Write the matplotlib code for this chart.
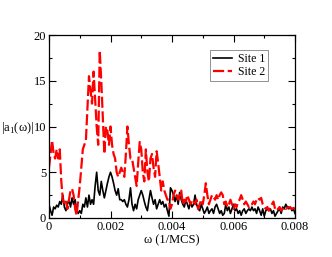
import numpy as np
import matplotlib
matplotlib.use("Agg")
import matplotlib.pyplot as plt
from matplotlib.ticker import MultipleLocator

plt.rcParams['font.family'] = ['Liberation Serif', 'DejaVu Serif']
plt.rcParams['mathtext.fontset'] = 'custom'
plt.rcParams['mathtext.rm'] = 'Liberation Serif'

step = 0.00005
site1 = [
    1.5, 0.8, 0.3, 1.2, 1.0, 1.4, 1.2, 1.8, 1.5, 2.5,
    1.2, 0.8, 1.5, 2.0, 1.2, 2.2, 1.5, 2.0, 0.8, 0.5,
    0.8, 0.5, 1.5, 1.2, 2.2, 1.2, 2.5, 1.5, 2.0, 1.5,
    3.5, 5.0, 3.0, 2.5, 4.0, 3.0, 2.2, 3.0, 3.8, 4.5,
    5.0, 4.5, 3.8, 3.0, 2.5, 3.2, 2.0, 2.0, 1.8, 2.0,
    1.5, 1.2, 2.0, 3.3, 1.5, 0.8, 1.5, 1.0, 2.0, 2.5,
    3.0, 2.5, 1.8, 1.2, 0.8, 2.0, 3.0, 2.2, 1.5, 2.0,
    1.0, 1.5, 2.0, 1.5, 1.8, 1.2, 1.5, 0.8, 0.2, 3.3,
    3.0, 2.5, 1.8, 2.5, 1.5, 2.8, 2.0, 1.5, 1.2, 2.0,
    1.5, 1.0, 1.8, 1.2, 1.5, 2.5, 1.5, 1.0, 0.8, 1.5,
    1.0, 0.5, 0.8, 1.2, 0.5, 0.8, 1.0, 0.5, 1.2, 1.5,
    1.0, 0.5, 0.8, 0.3, 0.5, 1.5, 0.8, 1.2, 0.5, 1.0,
    1.5, 0.8, 1.0, 0.5, 0.8, 0.3, 0.8, 1.0, 0.5, 0.8,
    1.0, 0.8, 1.2, 0.8, 1.0, 0.5, 1.2, 0.8, 0.3, 1.0,
    0.2, 0.8, 1.0, 0.8, 1.0, 0.5, 0.8, 0.2, 0.5, 0.8,
    1.0, 0.5, 1.2, 1.0, 1.5, 1.2, 1.0, 1.2, 0.8, 1.0,
    0.5,
]
site2 = [
    5.5, 7.0, 8.5, 7.0, 6.5, 7.5, 6.5, 7.5, 4.0, 2.0,
    1.5, 1.8, 1.0, 2.0, 3.0, 3.2, 2.5, 1.0, 0.3, 2.0,
    3.5, 5.5, 7.5, 8.0, 8.5, 12.0, 15.5, 14.0, 12.5, 16.0,
    13.0, 10.0, 8.0, 18.3, 15.0, 11.0, 7.0, 10.0, 9.5, 8.0,
    10.0, 8.0, 7.0, 6.5, 5.0, 4.5, 5.0, 5.5, 5.0, 4.5,
    7.0, 10.0, 8.0, 6.5, 6.5, 5.5, 4.5, 3.5, 6.0, 8.3,
    7.5, 5.0, 4.0, 7.5, 5.0, 4.0, 6.5, 7.0, 5.5, 4.5,
    7.3, 6.0, 4.5, 3.0, 4.0, 3.0, 2.5, 2.0, 2.0, 1.0,
    1.5, 2.5, 3.0, 2.5, 2.0, 2.5, 3.0, 1.5, 2.0, 1.8,
    2.5, 2.0, 1.5, 2.0, 1.8, 1.5, 2.0, 1.0, 1.5, 2.0,
    1.5, 2.5, 3.8, 2.5, 1.5, 2.0, 2.5, 2.3, 2.0, 2.5,
    2.0, 2.5, 2.8, 2.5, 1.5, 1.8, 1.2, 1.5, 2.0, 1.5,
    1.0, 1.5, 1.2, 1.8, 2.0, 2.5, 2.0, 1.5, 1.8, 1.5,
    1.2, 1.5, 1.5, 1.8, 1.5, 2.0, 2.2, 2.0, 2.2, 1.5,
    1.2, 1.0, 1.2, 0.8, 1.2, 1.5, 1.8, 1.0, 0.8, 1.0,
    1.2, 0.8, 1.0, 1.2, 1.0, 1.1, 1.2, 1.1, 1.0, 1.1,
    1.0,
]
labels = ["Site 1", "Site 2"]

omega1 = np.arange(len(site1)) * step
omega2 = np.arange(len(site2)) * step

fig = plt.figure(figsize=(3.32, 2.57), dpi=100)
ax = fig.add_axes([49/332, 1 - 218/257, (295-49)/332, (218-35)/257])

ax.plot(omega1, site1, color='black', lw=1.2, label=labels[0])
ax.plot(omega2, site2, color='red', lw=1.6, dashes=(5, 1.6), label=labels[1])

ax.set_xlim(0, 0.008)
ax.set_ylim(0, 20)
ax.xaxis.set_major_locator(MultipleLocator(0.002))
ax.xaxis.set_minor_locator(MultipleLocator(0.001))
ax.yaxis.set_major_locator(MultipleLocator(5))
ax.yaxis.set_minor_locator(MultipleLocator(2.5))
ax.set_xticks([0, 0.002, 0.004, 0.006, 0.008])
ax.set_xticklabels(["0", "0.002", "0.004", "0.006", "0.008"])
ax.tick_params(which='both', direction='in', top=True, right=True, labelsize=9, pad=2)
ax.tick_params(which='major', length=5, width=0.8)
ax.tick_params(which='minor', length=2.5, width=0.8)
for s in ax.spines.values():
    s.set_linewidth(0.9)

ax.set_xlabel("ω (1/MCS)", fontsize=9, labelpad=1)
fig.text(0.003, 1 - 128/257, r"|a$_1$(ω)|", fontsize=9, va='center', ha='left')

leg = ax.legend(loc='upper right', bbox_to_anchor=(1 - 27/246, 1 - 15/183), fontsize=8.5,
                frameon=True, fancybox=False, edgecolor='gray', framealpha=1,
                handlelength=1.6, handletextpad=0.5, borderpad=0.25, labelspacing=0.1,
                borderaxespad=0)
leg.get_frame().set_linewidth(0.6)

fig.savefig("out.png", dpi=100)
